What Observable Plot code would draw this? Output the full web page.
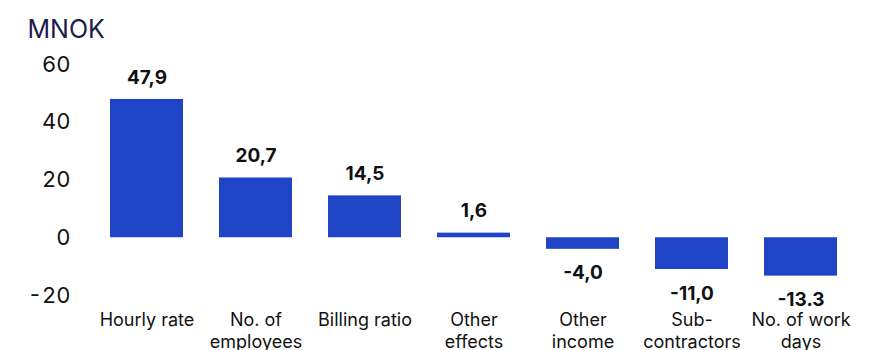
<!DOCTYPE html>
<html>
<head>
<meta charset="utf-8">
<script src="https://cdn.jsdelivr.net/npm/d3@7"></script>
<script src="https://cdn.jsdelivr.net/npm/@observablehq/plot@0.6"></script>
<style>
  html, body { margin: 0; padding: 0; background: #fff; }
  #chart svg { display: block; }
</style>
</head>
<body>
<div id="chart"></div>
<script>
const categories = ["Hourly rate", "No. of employees", "Billing ratio", "Other effects", "Other income", "Sub-contractors", "No. of work days"];
const tickLabels = ["Hourly rate", "No. of\nemployees", "Billing ratio", "Other\neffects", "Other\nincome", "Sub-\ncontractors", "No. of work\ndays"];
const values = [47.9, 20.7, 14.5, 1.6, -4.0, -11.0, -13.3];
const valueLabels = ["47,9", "20,7", "14,5", "1,6", "-4,0", "-11,0", "-13.3"];
const yTicks = [-20, 0, 20, 40, 60];
const unitLabel = "MNOK";

const data = categories.map((c, i) => ({category: c, value: values[i], label: valueLabels[i], tick: tickLabels[i]}));
const tickMap = new Map(data.map(d => [d.category, d.tick]));

const chart = Plot.plot({
  width: 892,
  height: 350,
  marginTop: 64,
  marginBottom: 55,
  marginLeft: 74,
  marginRight: 19,
  style: {fontFamily: "Inter, sans-serif", background: "#fff"},
  x: {domain: categories, padding: 0.33, label: null},
  y: {domain: [-20, 60], label: null},
  marks: [
    Plot.barY(data, {x: "category", y: "value", fill: "#1f44c6"}),
    Plot.text(data.filter(d => d.value >= 0), {x: "category", y: "value", text: "label", dy: -22, fontSize: 19, fontWeight: "bold", fill: "#111"}),
    Plot.text(data.filter(d => d.value < 0), {x: "category", y: "value", text: "label", dy: 24, fontSize: 19, fontWeight: "bold", fill: "#111"}),
    Plot.axisY({ticks: yTicks, tickSize: 0, tickPadding: 4, fontSize: 22, fill: "#111", label: null, tickFormat: d => String(d)}),
    Plot.axisX({tickSize: 0, tickPadding: 16, fontSize: 18, fill: "#111", lineHeight: 1.17, tickFormat: c => tickMap.get(c), label: null}),
    Plot.text([unitLabel], {frameAnchor: "top-left", text: d => d, dx: -47, dy: -44, fontSize: 25, fill: "#1b1b4d", textAnchor: "start"})
  ]
});
document.getElementById("chart").appendChild(chart);
</script>
</body>
</html>
